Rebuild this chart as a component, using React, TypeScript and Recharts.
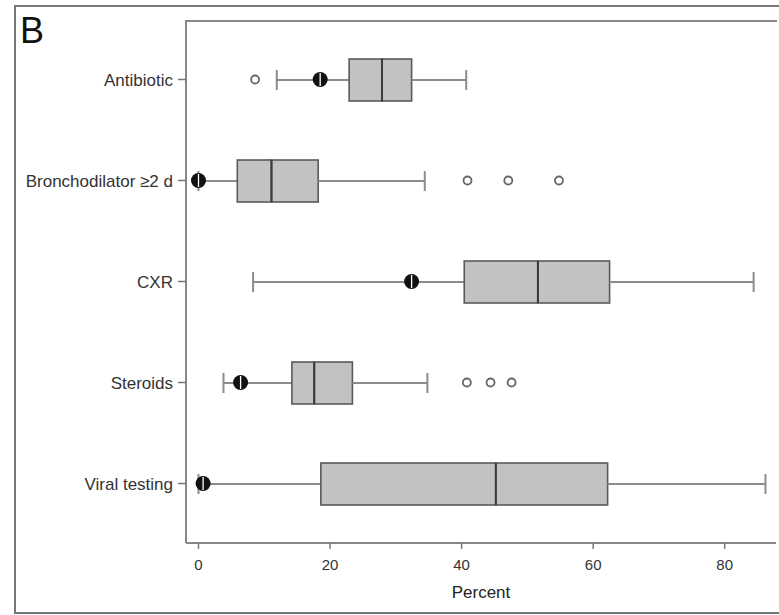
import { Bar, ComposedChart, Scatter, XAxis, YAxis } from "recharts";

const categories = ["Antibiotic", "Bronchodilator ≥2 d", "CXR", "Steroids", "Viral testing"];
const whiskerLow = [11.9, 0, 8.3, 3.8, 0];
const q1 = [22.9, 5.9, 40.4, 14.2, 18.6];
const median = [27.9, 11.1, 51.6, 17.6, 45.2];
const q3 = [32.4, 18.2, 62.5, 23.4, 62.2];
const whiskerHigh = [40.7, 34.4, 84.4, 34.8, 86.2];
const hospitalValue = [18.5, 0, 32.4, 6.4, 0.7];
const outliers = [[8.6], [40.9, 47.1, 54.8], [], [40.8, 44.4, 47.6], []];
const xTicks = [0, 20, 40, 60, 80];

const rows = categories.map((name, i) => ({
  name,
  base: whiskerLow[i],
  lowWhisker: q1[i] - whiskerLow[i],
  lowBox: median[i] - q1[i],
  highBox: q3[i] - median[i],
  highWhisker: whiskerHigh[i] - q3[i],
}));

const markerPoints = categories.map((name, i) => ({ name, v: hospitalValue[i] }));
const outlierPoints = categories.flatMap((name, i) => outliers[i].map((v) => ({ name, v })));

const FONT = "'Liberation Sans', Arial, Helvetica, sans-serif";
const WHISKER = "#8c8c8c";
const CAP = 10;

const Empty = () => null;

const LowWhisker = (p: any) => {
  const cy = p.y + p.height / 2;
  return (
    <g>
      <line x1={p.x} x2={p.x + p.width} y1={cy} y2={cy} stroke={WHISKER} strokeWidth={2} />
      <line x1={p.x} x2={p.x} y1={cy - CAP} y2={cy + CAP} stroke={WHISKER} strokeWidth={2} />
    </g>
  );
};

const HighWhisker = (p: any) => {
  const cy = p.y + p.height / 2;
  const xe = p.x + p.width;
  return (
    <g>
      <line x1={p.x} x2={xe} y1={cy} y2={cy} stroke={WHISKER} strokeWidth={2} />
      <line x1={xe} x2={xe} y1={cy - CAP} y2={cy + CAP} stroke={WHISKER} strokeWidth={2} />
    </g>
  );
};

const LowBox = (p: any) => (
  <rect x={p.x} y={p.y} width={p.width} height={p.height} fill="#c2c2c2" stroke="#5a5a5a" strokeWidth={1.6} />
);

const HighBox = (p: any) => (
  <g>
    <rect x={p.x} y={p.y} width={p.width} height={p.height} fill="#c2c2c2" stroke="#5a5a5a" strokeWidth={1.6} />
    <line x1={p.x} x2={p.x} y1={p.y} y2={p.y + p.height} stroke="#3a3a3a" strokeWidth={2} />
  </g>
);

const MarkerDot = (p: any) => (
  <g>
    <circle cx={p.cx} cy={p.cy} r={7.5} fill="#111" />
    <line x1={p.cx} x2={p.cx} y1={p.cy - 6.5} y2={p.cy + 6.5} stroke="#fff" strokeWidth={1.3} />
  </g>
);

const OutlierDot = (p: any) => (
  <circle cx={p.cx} cy={p.cy} r={4} fill="#fff" stroke="#666" strokeWidth={1.8} />
);

export default function App() {
  return (
    <div style={{ position: "relative", width: 779, height: 615, overflow: "hidden", background: "#fff", fontFamily: FONT }}>
      <style>{"body{margin:0}"}</style>
      <div
        style={{
          position: "absolute",
          left: 14,
          top: 5,
          width: 770,
          height: 609,
          border: "2px solid #777",
          boxSizing: "border-box",
        }}
      />
      <div style={{ position: "absolute", left: 20, top: 12.5, fontSize: 36, lineHeight: "36px", color: "#111" }}>B</div>
      <ComposedChart
        width={779}
        height={615}
        data={rows}
        layout="vertical"
        margin={{ top: 21, right: 3, bottom: 0, left: 0 }}
        style={{ position: "absolute", left: 0, top: 0 }}
      >
        <XAxis
          type="number"
          domain={[-1.9, 87.8]}
          ticks={xTicks}
          allowDataOverflow
          height={72}
          tickSize={6}
          tickMargin={10}
          axisLine={{ stroke: "#888", strokeWidth: 2 }}
          tickLine={{ stroke: "#777", strokeWidth: 1.5 }}
          tick={{ fill: "#333", fontSize: 15, fontFamily: FONT }}
          label={{ value: "Percent", position: "insideBottom", offset: 17, fill: "#222", fontSize: 17, fontFamily: FONT }}
        />
        <YAxis
          type="category"
          dataKey="name"
          width={186}
          allowDuplicatedCategory={false}
          padding={{ top: 8, bottom: 9 }}
          tickSize={8}
          tickMargin={5}
          axisLine={{ stroke: "#888", strokeWidth: 2 }}
          tickLine={{ stroke: "#777", strokeWidth: 1.5 }}
          tick={{ fill: "#333", fontSize: 17, fontFamily: FONT }}
        />
        <YAxis
          yAxisId="right"
          orientation="right"
          type="category"
          dataKey="name"
          width={0}
          allowDuplicatedCategory={false}
          tick={false}
          tickLine={false}
          axisLine={{ stroke: "#888", strokeWidth: 2 }}
        />
        <Bar dataKey="base" stackId="box" barSize={42} shape={<Empty />} isAnimationActive={false} />
        <Bar dataKey="lowWhisker" stackId="box" barSize={42} shape={<LowWhisker />} isAnimationActive={false} />
        <Bar dataKey="lowBox" stackId="box" barSize={42} shape={<LowBox />} isAnimationActive={false} />
        <Bar dataKey="highBox" stackId="box" barSize={42} shape={<HighBox />} isAnimationActive={false} />
        <Bar dataKey="highWhisker" stackId="box" barSize={42} shape={<HighWhisker />} isAnimationActive={false} />
        <Scatter data={outlierPoints} dataKey="v" shape={<OutlierDot />} isAnimationActive={false} />
        <Scatter data={markerPoints} dataKey="v" shape={<MarkerDot />} isAnimationActive={false} />
      </ComposedChart>
      <div style={{ position: "absolute", left: 185, top: 20, width: 592, height: 2, background: "#888" }} />
    </div>
  );
}
